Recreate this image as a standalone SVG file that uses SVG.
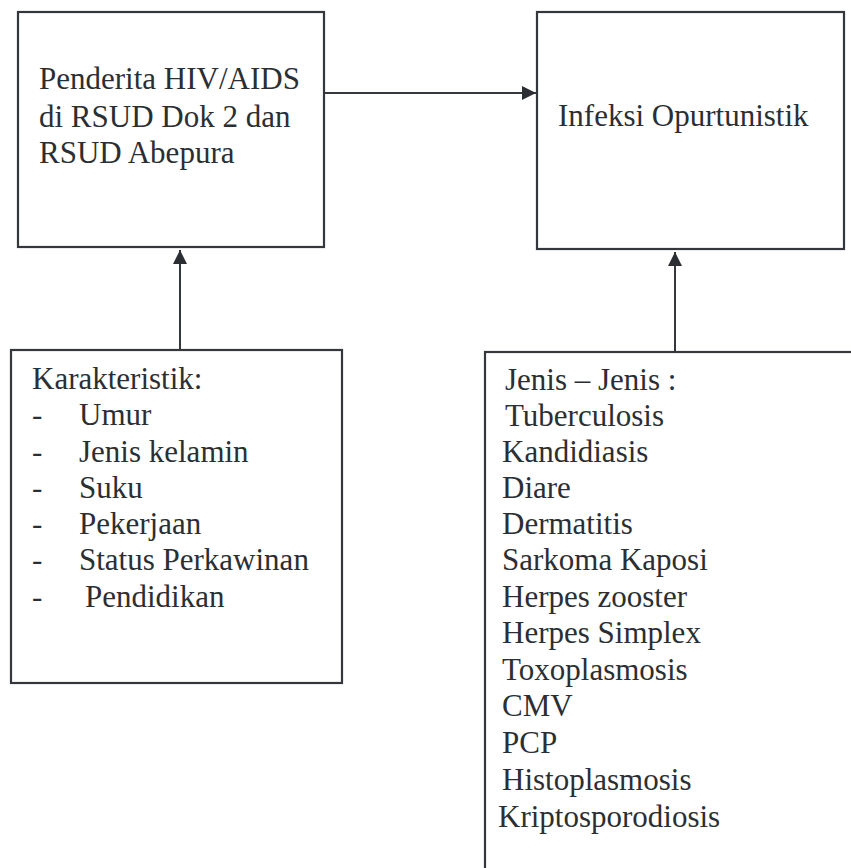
<svg xmlns="http://www.w3.org/2000/svg" width="851" height="868" viewBox="0 0 851 868">
<defs>
<style>
.box{fill:none;stroke:#34383c;stroke-width:2.2}
.t{font-family:"Liberation Serif","Times New Roman",serif;font-size:31px;fill:#2b2f33}
.c{stroke:#34383c;stroke-width:2;fill:none}
</style>
<marker id="ah" viewBox="0 0 10 10" refX="10" refY="5" markerWidth="15" markerHeight="14" markerUnits="userSpaceOnUse" orient="auto">
<path d="M0,0 L10,5 L0,10 z" fill="#2b2f33"/>
</marker>
</defs>
<rect width="851" height="868" fill="#ffffff"/>
<g id="connectors">
<line class="c" x1="324" y1="93" x2="536" y2="93" marker-end="url(#ah)"/>
<line class="c" x1="180" y1="350" x2="180" y2="250" marker-end="url(#ah)"/>
<line class="c" x1="675" y1="352" x2="675" y2="252" marker-end="url(#ah)"/>
</g>
<g id="node-penderita">
<rect class="box" x="18" y="12" width="306" height="235"/>
<text class="t" x="39" y="89">Penderita HIV/AIDS</text>
<text class="t" x="39" y="127">di RSUD Dok 2 dan</text>
<text class="t" x="39" y="163">RSUD Abepura</text>
</g>
<g id="node-infeksi">
<rect class="box" x="537" y="12" width="307" height="237"/>
<text class="t" x="558" y="126">Infeksi Opurtunistik</text>
</g>
<g id="node-karakteristik">
<rect class="box" x="11" y="350" width="331" height="333"/>
<text class="t" x="32" y="389">Karakteristik:</text>
<text class="t" x="32" y="425">-</text><text class="t" x="79" y="425">Umur</text>
<text class="t" x="32" y="462">-</text><text class="t" x="79" y="462">Jenis kelamin</text>
<text class="t" x="32" y="498">-</text><text class="t" x="79" y="498">Suku</text>
<text class="t" x="32" y="534">-</text><text class="t" x="79" y="534">Pekerjaan</text>
<text class="t" x="32" y="570">-</text><text class="t" x="79" y="570">Status Perkawinan</text>
<text class="t" x="32" y="607">-</text><text class="t" x="85" y="607">Pendidikan</text>
</g>
<g id="node-jenis">
<rect class="box" x="485" y="352" width="420" height="560"/>
<text class="t" x="505" y="390">Jenis – Jenis :</text>
<text class="t" x="505" y="426">Tuberculosis</text>
<text class="t" x="502" y="462">Kandidiasis</text>
<text class="t" x="502" y="498">Diare</text>
<text class="t" x="502" y="534">Dermatitis</text>
<text class="t" x="502" y="570">Sarkoma Kaposi</text>
<text class="t" x="502" y="607">Herpes zooster</text>
<text class="t" x="502" y="643">Herpes Simplex</text>
<text class="t" x="502" y="680">Toxoplasmosis</text>
<text class="t" x="502" y="716">CMV</text>
<text class="t" x="502" y="753">PCP</text>
<text class="t" x="502" y="790">Histoplasmosis</text>
<text class="t" x="498" y="827">Kriptosporodiosis</text>
</g>
</svg>
